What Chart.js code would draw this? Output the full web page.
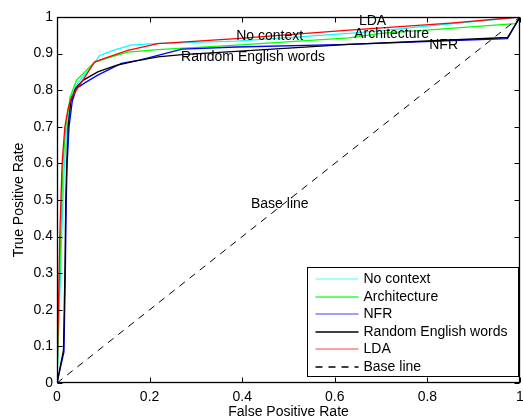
<!DOCTYPE html>
<html>
<head>
<meta charset="utf-8">
<title>ROC curves</title>
<script src="https://cdn.jsdelivr.net/npm/chart.js@4.4.1/dist/chart.umd.min.js"></script>
<style>
  html, body { margin: 0; padding: 0; background: #fff; }
  #wrap { width: 523px; height: 419px; position: relative; }
</style>
</head>
<body>
<div id="wrap"><canvas id="roc"></canvas></div>
<script>
// ROC curves per context type (false positive rate vs true positive rate)
var seriesNames = ["No context", "Architecture", "NFR", "Random English words", "LDA", "Base line"];

var noContextFpr = [0, 0.005, 0.010, 0.016, 0.022, 0.030, 0.045, 0.065, 0.081, 0.092, 0.125, 0.160, 0.220, 0.387, 0.630, 0.700, 1];
var noContextTpr = [0, 0.200, 0.400, 0.600, 0.700, 0.780, 0.820, 0.850, 0.875, 0.895, 0.910, 0.923, 0.928, 0.934, 0.955, 0.963, 1];

var architectureFpr = [0, 0.004, 0.008, 0.013, 0.019, 0.028, 0.042, 0.060, 0.081, 0.110, 0.153, 0.218, 0.387, 0.630, 0.700, 0.990, 1];
var architectureTpr = [0, 0.200, 0.400, 0.600, 0.700, 0.780, 0.827, 0.850, 0.877, 0.888, 0.904, 0.911, 0.923, 0.943, 0.955, 0.982, 1];

var nfrFpr = [0, 0.015, 0.018, 0.020, 0.022, 0.026, 0.033, 0.042, 0.060, 0.088, 0.139, 0.178, 0.218, 0.270, 0.387, 0.630, 0.973, 1];
var nfrTpr = [0, 0.085, 0.300, 0.500, 0.600, 0.700, 0.770, 0.805, 0.820, 0.841, 0.873, 0.882, 0.895, 0.912, 0.918, 0.925, 0.941, 1];

var randomFpr = [0, 0.014, 0.017, 0.019, 0.021, 0.024, 0.030, 0.040, 0.056, 0.088, 0.128, 0.171, 0.218, 0.270, 0.387, 0.630, 0.973, 1];
var randomTpr = [0, 0.090, 0.300, 0.500, 0.600, 0.700, 0.770, 0.805, 0.827, 0.850, 0.868, 0.880, 0.891, 0.897, 0.906, 0.925, 0.944, 1];

var ldaFpr = [0, 0.003, 0.006, 0.011, 0.017, 0.024, 0.032, 0.049, 0.065, 0.081, 0.107, 0.153, 0.218, 0.387, 0.631, 0.850, 1];
var ldaTpr = [0, 0.200, 0.400, 0.600, 0.700, 0.750, 0.782, 0.814, 0.845, 0.877, 0.889, 0.909, 0.927, 0.941, 0.964, 0.983, 1];

var baseFpr = [0, 1];
var baseTpr = [0, 1];

var xTickLabels = ["0", "0.2", "0.4", "0.6", "0.8", "1"];
var yTickLabels = ["0", "0.1", "0.2", "0.3", "0.4", "0.5", "0.6", "0.7", "0.8", "0.9", "1"];

// text labels placed next to the curves, in data units
var noteTexts = ["No context", "LDA", "Architecture", "NFR", "Random English words", "Base line"];
var noteFpr = [0.387, 0.652, 0.642, 0.804, 0.268, 0.419];
var noteTpr = [0.947, 0.989, 0.953, 0.923, 0.889, 0.489];

var FONT = "'Liberation Sans', Arial, Helvetica, sans-serif";
var colors = ["#00ffff", "#00ff00", "#0000ff", "#000000", "#ff0000", "#000000"];
var legendColors = ["#80ffff", "#33ff33", "#7f7fff", "#000000", "#ff8080", "#000000"];

function pairs(xs, ys) {
  return xs.map(function (x, i) { return { x: x, y: ys[i] }; });
}

var allX = [noContextFpr, architectureFpr, nfrFpr, randomFpr, ldaFpr, baseFpr];
var allY = [noContextTpr, architectureTpr, nfrTpr, randomTpr, ldaTpr, baseTpr];

var datasets = seriesNames.map(function (name, i) {
  return {
    label: name,
    data: pairs(allX[i], allY[i]),
    borderColor: colors[i],
    borderWidth: i === 5 ? 1 : 1.3,
    borderDash: i === 5 ? [7, 6] : [],
    pointRadius: 0,
    tension: 0,
    fill: false,
    order: seriesNames.length - i
  };
});

// box, inward ticks, curve notes and the legend
var matlabAxes = {
  id: "matlabAxes",
  afterDatasetsDraw: function (chart) {
    var ctx = chart.ctx;
    var a = chart.chartArea;
    var xs = chart.scales.x, ys = chart.scales.y;
    var L = Math.round(a.left) + 0.5, R = Math.round(a.right) - 0.5;
    var T = Math.round(a.top) + 0.5, B = Math.round(a.bottom) - 0.5;
    var tl = 5;

    ctx.save();
    ctx.strokeStyle = "#000";
    ctx.lineWidth = 1;
    ctx.setLineDash([]);
    ctx.beginPath();
    xTickLabels.forEach(function (t) {
      var px = Math.round(xs.getPixelForValue(parseFloat(t))) + 0.5;
      ctx.moveTo(px, B); ctx.lineTo(px, B - tl);
      ctx.moveTo(px, T); ctx.lineTo(px, T + tl);
    });
    yTickLabels.forEach(function (t) {
      var py = Math.round(ys.getPixelForValue(parseFloat(t))) + 0.5;
      ctx.moveTo(L, py); ctx.lineTo(L + tl, py);
      ctx.moveTo(R, py); ctx.lineTo(R - tl, py);
    });
    ctx.stroke();
    ctx.lineWidth = 1.3;
    ctx.strokeRect(L, T, R - L, B - T);

    // notes
    ctx.fillStyle = "#000";
    ctx.font = "14px " + FONT;
    ctx.textAlign = "left";
    ctx.textBaseline = "middle";
    noteTexts.forEach(function (t, i) {
      ctx.fillText(t, xs.getPixelForValue(noteFpr[i]), ys.getPixelForValue(noteTpr[i]));
    });

    // legend
    var bw = 211, bh = 109;
    var bx = Math.round(a.right) - 2 - bw + 0.5;
    var by = Math.round(a.bottom) - 7 - bh + 0.5;
    ctx.fillStyle = "#fff";
    ctx.fillRect(bx, by, bw, bh);
    ctx.lineWidth = 1;
    ctx.strokeStyle = "#000";
    ctx.strokeRect(bx, by, bw, bh);
    seriesNames.forEach(function (name, i) {
      var cy = Math.round(by + 11.5 + i * 17.6);
      ctx.beginPath();
      ctx.strokeStyle = legendColors[i];
      ctx.lineWidth = 1.3;
      ctx.setLineDash(i === 5 ? [7, 6] : []);
      ctx.moveTo(bx + 8, cy);
      ctx.lineTo(bx + 51, cy);
      ctx.stroke();
      ctx.setLineDash([]);
      ctx.fillStyle = "#000";
      ctx.fillText(name, bx + 56, cy);
    });
    ctx.restore();
  }
};

new Chart(document.getElementById("roc"), {
  type: "line",
  data: { datasets: datasets },
  options: {
    responsive: true,
    maintainAspectRatio: false,
    animation: false,
    layout: { padding: { top: 17, right: 3, left: 0, bottom: 0 } },
    plugins: {
      legend: { display: false },
      tooltip: { enabled: false }
    },
    scales: {
      x: {
        type: "linear",
        min: 0,
        max: 1,
        afterBuildTicks: function (s) {
          s.ticks = xTickLabels.map(function (t) { return { value: parseFloat(t) }; });
        },
        ticks: {
          callback: function (v, i) { return xTickLabels[i]; },
          font: { size: 14, family: FONT },
          color: "#000",
          padding: 6,
          maxRotation: 0,
          autoSkip: false
        },
        grid: { display: false, drawTicks: false },
        border: { display: false },
        title: {
          display: true,
          text: "False Positive Rate",
          font: { size: 14, family: FONT, lineHeight: 1.0 },
          color: "#000",
          padding: { top: 0, bottom: 0 }
        },
        afterFit: function (s) {
          s.height = 36;
          s.paddingLeft = 0;
          s.paddingRight = 0;
        }
      },
      y: {
        type: "linear",
        min: 0,
        max: 1,
        afterBuildTicks: function (s) {
          s.ticks = yTickLabels.map(function (t) { return { value: parseFloat(t) }; });
        },
        ticks: {
          callback: function (v, i) { return yTickLabels[i]; },
          font: { size: 14, family: FONT },
          color: "#000",
          padding: 4,
          autoSkip: false
        },
        grid: { display: false, drawTicks: false },
        border: { display: false },
        title: {
          display: true,
          text: "True Positive Rate",
          font: { size: 14, family: FONT },
          color: "#000",
          padding: { top: 11, bottom: 0 }
        },
        afterFit: function (s) {
          s.width = 57;
          s.paddingTop = 0;
          s.paddingBottom = 0;
        }
      }
    }
  },
  plugins: [matlabAxes]
});
</script>
</body>
</html>
